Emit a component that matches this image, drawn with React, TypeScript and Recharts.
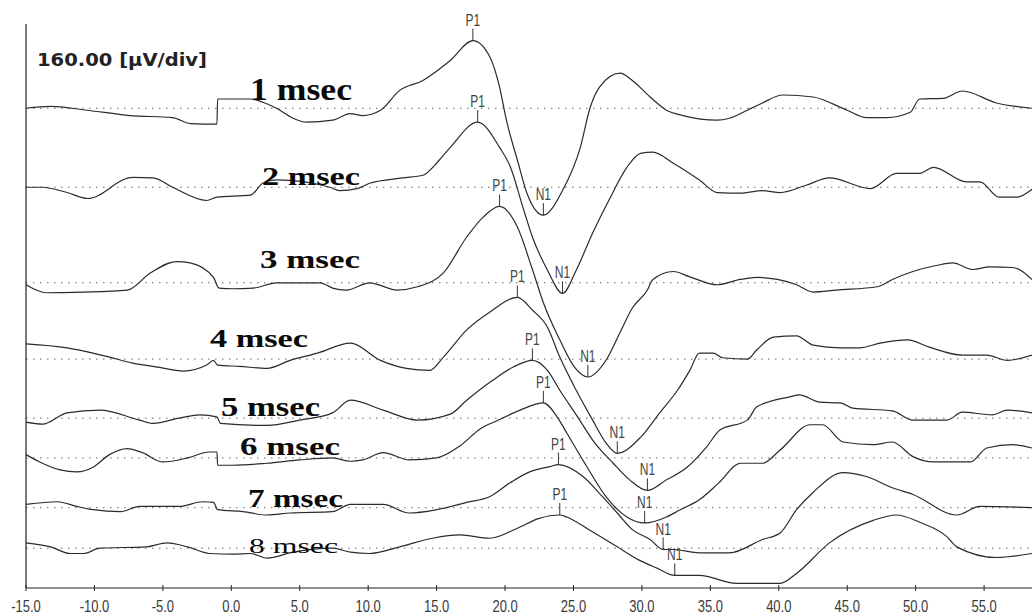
import React from 'react';
import { ComposedChart, Line, Scatter, XAxis, YAxis, ReferenceLine } from 'recharts';

// [latency ms, amplitude µV], relative to its own zero line
const trace1: [number, number][] = [
  [-15, 0], [-13.2, 3], [-10.5, -3], [-7.4, -11], [-4.3, -14], [-3.0, -23], [-1.05, -24], [-1.0, 14],
  [1.4, 14], [2.3, 9], [3.3, 0], [4.5, -15], [5.5, -21], [7.4, -18], [8.7, -8], [9.6, -11], [10.9, -3],
  [12.3, 27], [14.0, 42], [16.0, 72], [17.65, 102], [18.9, 77], [19.6, 32], [20.1, -18], [20.9, -78],
  [21.6, -128], [22.8, -161], [24.2, -124], [25.5, -59], [26.2, 0], [26.9, 32], [28.4, 53], [29.3, 42],
  [30.6, 17], [31.8, -3], [33.0, -11], [35.5, -18], [36.4, -15], [37.7, -3], [38.8, 8], [40.3, 20],
  [42.5, 17], [45.0, -3], [46.4, -14], [47.9, -14], [49.6, -6], [50.3, 14], [52.0, 15], [53.4, 26],
  [55.9, 8], [58.5, 0],
];
const trace2: [number, number][] = [
  [-15, 0], [-13.8, 0], [-12.0, -8], [-10.5, -17], [-7.2, 15], [-5.7, 14], [-4.3, 0], [-1.8, -20],
  [-1.05, -15], [1.4, -12], [2.3, 6], [3.3, 11], [7.2, 0], [7.9, -5], [9.2, -2], [10.1, 6], [12.5, 14],
  [14.0, 18], [15.2, 41], [16.0, 60], [18.0, 98], [19.6, 60], [20.4, 30], [21.3, -30], [22.0, -75],
  [23.1, -125], [24.2, -160], [25.2, -125], [26.4, -69], [27.7, -15], [28.9, 30], [29.9, 51], [30.8, 53],
  [32.3, 36], [34.2, 11], [35.5, -8], [37.2, -9], [38.8, -5], [40.1, -8], [42.0, 3], [43.7, 14],
  [46.7, -2], [48.6, 21], [50.3, 21], [51.3, 30], [53.7, 8], [54.7, 8], [56.1, -15], [57.4, -15], [58.5, -3],
];
const trace3: [number, number][] = [
  [-15, -3], [-13.5, -15], [-10.8, -14], [-7.6, -11], [-5.9, 15], [-4.0, 32], [-3.0, 30], [-1.3, 8],
  [-0.9, -8], [0.1, -9], [1.6, -8], [3.3, 0], [6.5, 0], [7.4, -8], [8.4, -11], [10.1, 0], [12.1, -11],
  [13.6, -6], [15.5, 15], [17.2, 69], [18.4, 99], [19.6, 115], [20.9, 84], [22.0, 20], [22.8, -30],
  [24.0, -86], [25.1, -128], [26.05, -142], [27.4, -116], [28.4, -75], [29.3, -38], [30.4, -11], [30.8, 5],
  [32.3, 17], [33.5, 9], [35.5, -3], [37.2, 5], [38.4, 8], [39.9, 5], [41.3, -3], [42.5, -14], [44.2, -11],
  [47.2, -6], [48.3, 5], [49.8, 17], [51.5, 26], [52.7, 30], [54.2, 20], [55.4, 24], [57.1, 23], [58.5, 5],
];
const trace4: [number, number][] = [
  [-15, 23], [-12.0, 17], [-10.1, 9], [-8.9, 3], [-7.2, -6], [-5.4, -12], [-3.5, -18], [-1.8, -9],
  [-1.3, -2], [-1.0, -9], [0.6, -11], [2.6, -14], [4.3, -2], [6.3, 9], [8.7, 24], [10.9, -2], [12.8, -14],
  [14.5, -17], [15.5, 3], [17.2, 44], [18.9, 71], [20.9, 93], [22.0, 74], [23.1, 48], [24.0, 3], [25.2, -47],
  [26.4, -92], [27.4, -127], [28.2, -142], [29.9, -118], [31.3, -81], [32.6, -47], [33.5, -17], [34.2, 9],
  [35.2, 9], [35.9, 2], [37.7, 0], [38.4, 14], [39.6, 33], [41.3, 35], [42.5, 21], [44.5, 17], [45.9, 17],
  [47.4, 24], [49.4, 29], [51.0, 18], [53.4, 6], [55.2, 6], [56.7, -2], [58.5, 6],
];
const trace5: [number, number][] = [
  [-15, -6], [-13.8, -9], [-12.0, 8], [-9.6, 12], [-6.7, -3], [-5.7, -8], [-3.8, 0], [-2.3, 5],
  [-1.05, 2], [-0.8, -8], [2.6, -11], [5.0, -3], [7.4, 8], [8.7, 27], [11.1, 12], [13.6, -3], [16.0, 6],
  [17.2, 27], [19.1, 57], [20.6, 77], [22.0, 87], [23.1, 72], [24.0, 42], [25.3, 2], [26.4, -33],
  [27.9, -68], [29.1, -93], [30.4, -109], [31.8, -93], [33.3, -74], [34.7, -44], [35.7, -18], [37.7, -3],
  [38.4, 17], [40.8, 32], [41.5, 35], [43.0, 24], [44.5, 23], [45.4, 15], [48.3, 11], [49.8, -3],
  [52.3, -3], [53.4, 9], [55.6, 5], [56.7, 12], [58.5, 8],
];
const trace6: [number, number][] = [
  [-15, 5], [-14.0, -6], [-12.5, -18], [-11.3, -21], [-10.1, -14], [-8.9, 5], [-7.6, 14], [-6.5, 8],
  [-5.0, -6], [-3.2, 0], [-1.6, 9], [-1.05, 9], [-1.0, -11], [0.1, -11], [2.6, -8], [5.0, -3], [7.4, 0],
  [8.7, -5], [9.6, -3], [11.1, 8], [13.0, -3], [15.0, 0], [16.7, 18], [18.2, 44], [19.4, 56], [21.1, 72],
  [22.8, 83], [23.8, 62], [24.5, 38], [26.0, -14], [27.4, -59], [28.9, -89], [30.2, -98], [31.8, -89],
  [32.8, -78], [34.2, -63], [35.6, -38], [37.2, -8], [38.8, -8], [40.1, 12], [42.3, 50], [43.2, 50],
  [44.7, 24], [46.9, 20], [48.3, 24], [49.8, 2], [51.3, -6], [54.0, -6], [55.2, 15], [57.1, 20], [58.5, 15],
];
const trace7: [number, number][] = [
  [-15, 5], [-12.7, 9], [-11.3, 2], [-10.1, -3], [-8.1, -6], [-6.7, 2], [-3.8, 2], [-2.1, 9], [-1.3, 8],
  [-1.0, -3], [0.85, -6], [2.6, -11], [4.3, -8], [7.4, -6], [8.7, 5], [11.1, 5], [13.0, -8], [15.0, -3],
  [17.2, 8], [18.9, 17], [20.4, 38], [21.8, 54], [23.3, 62], [23.9, 65], [25.7, 47], [27.1, 17], [28.2, -8],
  [29.3, -33], [30.6, -48], [31.55, -63], [32.3, -63], [34.2, -68], [36.4, -68], [38.8, -48], [40.1, -38],
  [41.3, -3], [42.5, 23], [44.7, 53], [46.4, 47], [48.3, 30], [49.8, 20], [53.0, -11], [54.7, 2], [58.5, 0],
];
const trace8: [number, number][] = [
  [-15, 8], [-13.2, 2], [-11.8, -8], [-10.8, -8], [-9.6, 0], [-6.2, 2], [-4.7, 8], [-3.2, 2], [-1.6, -8],
  [0.1, -9], [1.4, -8], [2.6, -15], [4.5, -6], [7.4, 0], [8.7, -6], [10.1, -8], [12.3, 2], [14.7, 15],
  [16.7, 20], [18.9, 15], [20.9, 30], [22.5, 45], [24.0, 50], [24.5, 47], [26.2, 27], [28.2, 2], [29.8, -18],
  [31.1, -30], [32.4, -41], [34.2, -41], [36.9, -53], [40.1, -53], [41.3, -38], [43.7, 8], [46.9, 42],
  [48.6, 50], [50.3, 39], [52.3, 17], [53.0, 2], [55.9, -14], [58.5, -8],
];

const traces = [trace1, trace2, trace3, trace4, trace5, trace6, trace7, trace8];
const traceNames = ['1 msec', '2 msec', '3 msec', '4 msec', '5 msec', '6 msec', '7 msec', '8 msec'];
// zero line of each trace on the µV axis
const baselines = [723, 604, 460, 345, 256, 196, 121, 60];
const p1Latency = [17.65, 18.0, 19.6, 20.9, 22.0, 22.8, 23.9, 24.0];
const n1Latency = [22.8, 24.2, 26.05, 28.2, 30.4, 30.2, 31.55, 32.4];
const xTicks = [-15, -10, -5, 0, 5, 10, 15, 20, 25, 30, 35, 40, 45, 50, 55];
const yTicks = [160, 320, 480, 640, 800];
const scaleText = '160.00 [µV/div]';

// where the hand-placed trace names sit on the figure
const nameBoxes = [
  { x: 250, y: 100, w: 102, size: 31, weight: 700 },
  { x: 262, y: 185, w: 98, size: 26, weight: 700 },
  { x: 260, y: 268, w: 100, size: 26, weight: 700 },
  { x: 210, y: 347, w: 98, size: 26, weight: 700 },
  { x: 221, y: 416, w: 99, size: 27, weight: 700 },
  { x: 240, y: 455, w: 100, size: 25, weight: 700 },
  { x: 248, y: 507, w: 95, size: 26, weight: 700 },
  { x: 249, y: 553, w: 89, size: 22, weight: 400 },
];

const W = 1032;
const H = 616;

function valueAt(tr: [number, number][], t: number) {
  for (let i = 0; i < tr.length - 1; i++) {
    const [t0, v0] = tr[i];
    const [t1, v1] = tr[i + 1];
    if (t >= t0 && t <= t1) return v0 + ((v1 - v0) * (t - t0)) / (t1 - t0);
  }
  return 0;
}

const lineData = traces.map((tr, i) => tr.map(([t, v]) => ({ t, v: v + baselines[i] })));

const markers = traces.flatMap((tr, i) => [
  { t: p1Latency[i], v: baselines[i] + valueAt(tr, p1Latency[i]), label: 'P1' },
  { t: n1Latency[i], v: baselines[i] + valueAt(tr, n1Latency[i]), label: 'N1' },
]);

const MarkerShape = (props: any) => {
  const { cx, cy, payload } = props;
  if (cx == null || cy == null) return <g />;
  return (
    <g>
      <line x1={cx} x2={cx} y1={cy} y2={cy - 12} stroke="#333" strokeWidth={1} />
      <g transform={`translate(${cx},${cy - 15}) scale(1,1.3)`}>
        <text x={0} y={0} textAnchor="middle" fontSize={12} fontFamily="Liberation Sans, Arial, sans-serif" fill="#444">
          {payload.label}
        </text>
      </g>
    </g>
  );
};

const XTick = (props: any) => {
  const { x, y, payload } = props;
  return (
    <g>
      <line x1={x} x2={x} y1={y - 3} y2={y + 3} stroke="#222" strokeWidth={1} />
      <g transform={`translate(${x},${y + 24}) scale(1,1.25)`}>
        <text x={0} y={0} textAnchor="middle" fontSize={13} fontFamily="Liberation Sans, Arial, sans-serif" fill="#3a3a3a">
          {Number(payload.value).toFixed(1)}
        </text>
      </g>
    </g>
  );
};

export default function App() {
  return (
    <div style={{ position: 'absolute', left: 0, top: 0, width: W, height: H, background: '#fff' }}>
      <ComposedChart width={W} height={H} margin={{ top: 24, right: 0, bottom: 0, left: 0 }}>
        <XAxis
          dataKey="t"
          type="number"
          domain={[-15, 58.5]}
          ticks={xTicks}
          height={28}
          tickSize={0}
          tickMargin={0}
          tickLine={false}
          tick={<XTick />}
          axisLine={{ stroke: '#222', strokeWidth: 1.2 }}
        />
        <YAxis
          type="number"
          domain={[0, 850]}
          ticks={yTicks}
          width={26}
          tickSize={4}
          tick={false}
          tickLine={{ stroke: '#222' }}
          axisLine={{ stroke: '#222', strokeWidth: 1.2 }}
        />
        {baselines.map((b, i) => (
          <ReferenceLine key={`b${i}`} y={b} stroke="#666" strokeWidth={1} strokeDasharray="1.5 5.5" />
        ))}
        {lineData.map((d, i) => (
          <Line
            key={traceNames[i]}
            data={d}
            dataKey="v"
            name={traceNames[i]}
            type="monotoneX"
            stroke="#2b2b2b"
            strokeWidth={1.2}
            dot={false}
            activeDot={false}
            isAnimationActive={false}
          />
        ))}
        <Scatter data={markers} dataKey="v" shape={<MarkerShape />} isAnimationActive={false} />
      </ComposedChart>
      <svg width={W} height={H} style={{ position: 'absolute', left: 0, top: 0, pointerEvents: 'none' }}>
        <text x={37} y={66} fontSize={18} fontWeight={700} fontFamily="DejaVu Sans, Verdana, sans-serif" fill="#222" textLength={170} lengthAdjust="spacingAndGlyphs">
          {scaleText}
        </text>
        {traceNames.map((name, i) => (
          <text
            key={name}
            x={nameBoxes[i].x}
            y={nameBoxes[i].y}
            fontSize={nameBoxes[i].size}
            fontWeight={nameBoxes[i].weight}
            fontFamily="Liberation Serif, Times New Roman, serif"
            fill="#0a0a0a"
            textLength={nameBoxes[i].w}
            lengthAdjust="spacingAndGlyphs"
          >
            {name}
          </text>
        ))}
      </svg>
    </div>
  );
}
